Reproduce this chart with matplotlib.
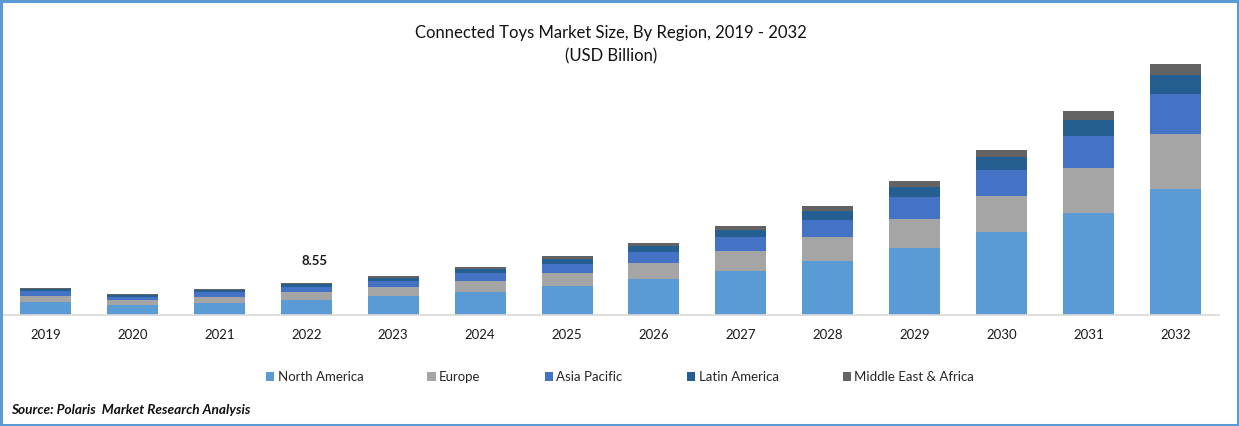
import matplotlib
matplotlib.use("Agg")
import matplotlib.pyplot as plt
import numpy as np
from matplotlib.patches import Rectangle

plt.rcParams['font.family'] = ['Lato', 'DejaVu Sans']

years = [2019, 2020, 2021, 2022, 2023, 2024, 2025, 2026, 2027, 2028, 2029, 2030, 2031, 2032]
north_america = [3.47, 2.67, 3.21, 4.01, 5.08, 6.15, 7.75, 9.62, 11.76, 14.43, 17.90, 22.18, 27.25, 33.67]
europe = [1.60, 1.34, 1.60, 2.14, 2.40, 2.94, 3.47, 4.28, 5.34, 6.41, 7.75, 9.62, 12.02, 14.70]
asia_pacific = [1.34, 0.80, 1.34, 1.34, 1.60, 2.14, 2.40, 2.94, 3.74, 4.54, 5.88, 6.95, 8.55, 10.69]
latin_america = [0.45, 0.45, 0.45, 0.72, 0.80, 1.07, 1.34, 1.60, 1.87, 2.40, 2.67, 3.47, 4.28, 5.08]
middle_east = [0.35, 0.35, 0.35, 0.35, 0.53, 0.53, 0.80, 0.80, 1.07, 1.34, 1.60, 1.87, 2.40, 2.94]

series = [north_america, europe, asia_pacific, latin_america, middle_east]
names = ['North America', 'Europe', 'Asia Pacific', 'Latin America', 'Middle East & Africa']
colors = ['#5B9BD5', '#A5A5A5', '#4472C4', '#255E91', '#636363']

W, H = 1239, 426
fig = plt.figure(figsize=(W / 100, H / 100), dpi=100, facecolor='white')
ax = fig.add_axes([2 / W, (H - 315) / H, 1217 / W, 260 / H])

x = np.arange(len(years))
bottom = np.zeros(len(years))
for vals, name, col in zip(series, names, colors):
    ax.bar(x, vals, 0.587, bottom=bottom, color=col, label=name)
    bottom += np.array(vals)

ax.set_xlim(-0.5, 13.5)
ax.set_ylim(0, 69.47)
ax.set_yticks([])
ax.set_xticks(x)
ax.set_xticklabels(years, fontsize=9.5, color='#1a1a1a')
ax.tick_params(axis='x', length=0, pad=10)
for s in ['top', 'left', 'right']:
    ax.spines[s].set_visible(False)
ax.spines['bottom'].set_color('#D9D9D9')
ax.spines['bottom'].set_linewidth(1.2)

ax.annotate('8.55', (3, bottom[3]), xytext=(6, 16), textcoords='offset points',
            ha='center', va='center', fontsize=9.5, fontweight='bold', color='#1a1a1a')

fig.text(611 / W, 1 - 33 / H, 'Connected Toys Market Size, By Region, 2019 - 2032',
         ha='center', va='center', fontsize=12, color='#111111')
fig.text(611 / W, 1 - 56 / H, '(USD Billion)', ha='center', va='center', fontsize=12, color='#111111')

handles, labels = ax.get_legend_handles_labels()
fig.legend(handles, labels, ncol=5, loc='center', bbox_to_anchor=(620 / W, 1 - 377 / H), frameon=False,
           fontsize=9.5, handlelength=0.65, handleheight=0.65, handletextpad=0.25, columnspacing=4.85,
           labelcolor='#262626')

fig.text(11 / W, 1 - 410 / H, 'Source: Polaris  Market Research Analysis', ha='left', va='center',
         fontsize=9.8, fontweight='bold', fontstyle='italic', color='#111111')

fig.add_artist(Rectangle((1 / W, 1 / H), (W - 2) / W, (H - 2) / H, transform=fig.transFigure,
                         fill=False, edgecolor='#5B9BD5', linewidth=2.2))

fig.savefig('out.png', dpi=100)
